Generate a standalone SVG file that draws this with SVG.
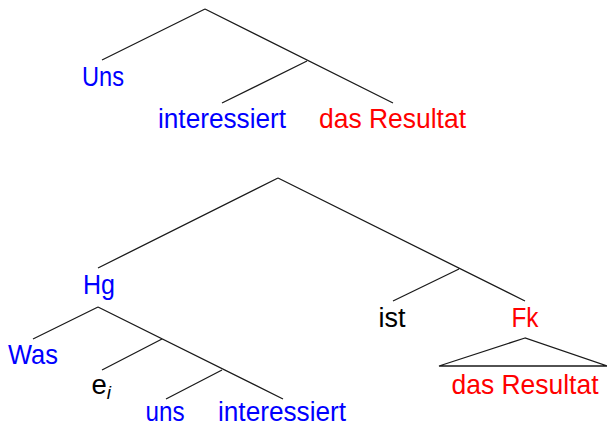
<svg xmlns="http://www.w3.org/2000/svg" width="607" height="426" viewBox="0 0 607 426">
<style>
text{font-family:"Liberation Sans",Arial,sans-serif;font-size:27.5px;text-anchor:middle}
.b{fill:#0000ff}
.r{fill:#ff0000}
.k{fill:#000}
.e{stroke:#1a1a1a;stroke-width:1.3;fill:none}
</style>
<rect width="607" height="426" fill="#fff"/>
<g id="connectors">
<path class="e" d="M205,9 L102,60 M205,9 L393,103 M307,61 L222,103"/>
<path class="e" d="M278,178 L98,268 M278,178 L525,301 M459,269 L393,301"/>
<path class="e" d="M98,307 L33,339 M98,307 L283,399 M162,339 L102,370 M222,370 L166,399"/>
<path class="e" d="M525,338 L439,366 L607,366 Z"/>
</g>
<g id="n-uns1"><text class="b" x="103" y="86" textLength="42" lengthAdjust="spacingAndGlyphs">Uns</text></g>
<g id="n-interessiert1"><text class="b" x="222" y="128" textLength="128" lengthAdjust="spacingAndGlyphs">interessiert</text></g>
<g id="n-resultat1"><text class="r" x="392.5" y="128" textLength="147" lengthAdjust="spacingAndGlyphs">das Resultat</text></g>
<g id="n-hg"><text class="b" x="99" y="294" textLength="32" lengthAdjust="spacingAndGlyphs">Hg</text></g>
<g id="n-ist"><text class="k" x="392" y="327" textLength="27" lengthAdjust="spacingAndGlyphs">ist</text></g>
<g id="n-fk"><text class="r" x="525" y="327" textLength="27" lengthAdjust="spacingAndGlyphs">Fk</text></g>
<g id="n-was"><text class="b" x="33" y="364" textLength="50" lengthAdjust="spacingAndGlyphs">Was</text></g>
<g id="n-ei"><text class="k" x="91.5" y="394" style="text-anchor:start">e<tspan font-style="italic" font-size="19" dy="5">i</tspan></text></g>
<g id="n-uns2"><text class="b" x="165" y="421" textLength="39" lengthAdjust="spacingAndGlyphs">uns</text></g>
<g id="n-interessiert2"><text class="b" x="282" y="421" textLength="128" lengthAdjust="spacingAndGlyphs">interessiert</text></g>
<g id="n-resultat2"><text class="r" x="525" y="394" textLength="147" lengthAdjust="spacingAndGlyphs">das Resultat</text></g>
</svg>
